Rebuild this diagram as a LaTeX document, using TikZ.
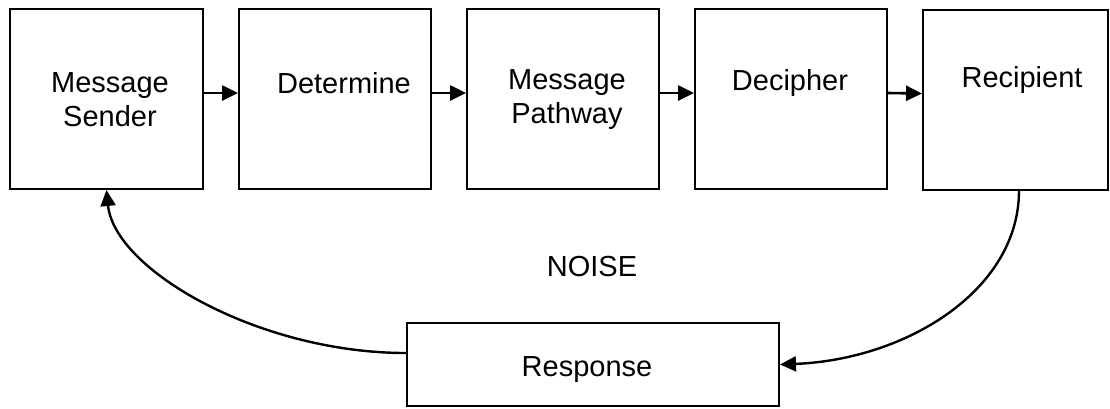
\documentclass[tikz,border=0pt]{standalone}
\usepackage{fontspec}
\setmainfont{Liberation Sans}
\usetikzlibrary{arrows.meta}

\begin{document}
\begin{tikzpicture}[x=1pt,y=-1pt,
  box/.style={draw=black, line width=2pt, rectangle, inner sep=0pt},
  lbl/.style={font=\fontsize{29}{34}\selectfont, align=center, inner sep=0pt},
  arr/.style={line width=2.6pt, -{Triangle[length=16pt,width=15pt]}},
  flow/.style={line width=2.4pt, -{Triangle[length=16pt,width=15pt]}}]
  \useasboundingbox (0,0) rectangle (1110,408);

  % process boxes along the top
  \node[box, minimum width=193pt, minimum height=180pt] (b1) at (106.5,99) {};
  \node[box, minimum width=192pt, minimum height=180pt] (b2) at (335,99) {};
  \node[box, minimum width=192pt, minimum height=180pt] (b3) at (563,99) {};
  \node[box, minimum width=192pt, minimum height=180pt] (b4) at (791,99) {};
  \node[box, minimum width=185pt, minimum height=180pt] (b5) at (1015.5,99.5) {};
  % feedback box
  \node[box, minimum width=372pt, minimum height=83pt] (resp) at (593,364.5) {};

  % box texts
  \node[lbl] (t1) at (110,100) {Message\\Sender};
  \node[lbl] (t2) at (344,83) {Determine};
  \node[lbl] (t3) at (567,100) {Message\\Pathway};
  \node[lbl] (t4) at (790,83) {Decipher};
  \node[lbl] (t5) at (1022,80) {Recipient};
  \node[lbl] (t6) at (587,370) {Response};
  \node[lbl] (noise) at (592,267) {NOISE};

  % forward arrows
  \draw[arr] ([yshift=6pt]b1.east) -- ([yshift=6pt]b2.west);
  \draw[arr] ([yshift=6pt]b2.east) -- ([yshift=6pt]b3.west);
  \draw[arr] ([yshift=6pt]b3.east) -- ([yshift=6pt]b4.west);
  \draw[arr] ([yshift=6pt]b4.east) -- ([yshift=6pt]b5.west);

  % feedback loop
  \draw[flow] ([xshift=3.5pt]b5.south) .. controls +(0,100) and +(126,-5) .. (resp.east);
  \draw[flow] ([yshift=11.5pt]resp.west) .. controls +(-147,0) and +(8,80) .. (b1.south);
\end{tikzpicture}
\end{document}
